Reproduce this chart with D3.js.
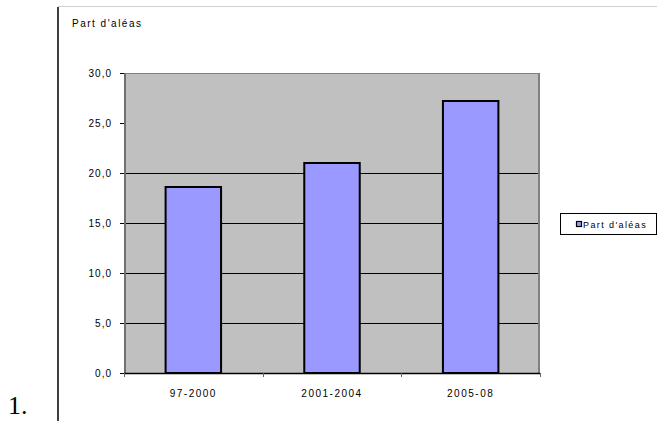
<!DOCTYPE html>
<html>
<head>
<meta charset="utf-8">
<script src="https://cdn.jsdelivr.net/npm/d3@7"></script>
<style>
  html, body { margin: 0; padding: 0; background: #fff; }
  svg { display: block; }
  text { font-family: Arial, "Liberation Sans", sans-serif; fill: #000; }
</style>
</head>
<body>
<svg id="chart" width="657" height="421"></svg>
<script>
// Chart data
const categories = ["97-2000", "2001-2004", "2005-08"];
const values = [18.6, 21.0, 27.2];
const yTicks = [0, 5, 10, 15, 20, 25, 30];
const gridValues = [5, 10, 15, 20];
const seriesName = "Part d'aléas";

const svg = d3.select("#chart");
const frFormat = d3.formatLocale({ decimal: ",", thousands: " ", grouping: [3], currency: ["", " €"] }).format(".1f");

// Page decorations: list number, margin rule and top rule
svg.append("text")
  .attr("x", 8).attr("y", 414)
  .style("font-family", "'Liberation Serif', 'Times New Roman', serif")
  .style("font-size", "26px")
  .text("1.");
svg.append("line").attr("x1", 58).attr("x2", 58).attr("y1", 7).attr("y2", 421)
  .attr("stroke", "#000").attr("stroke-width", 1.5);
svg.append("line").attr("x1", 58).attr("x2", 657).attr("y1", 6.5).attr("y2", 6.5)
  .attr("stroke", "#d0d0d0").attr("stroke-width", 1);

// Chart title
svg.append("text")
  .attr("x", 72).attr("y", 27)
  .style("font-size", "10px").style("letter-spacing", "1.5px")
  .text(seriesName);

// Plot area
const plot = { left: 124, right: 540, top: 73, bottom: 373 };

const x = d3.scaleBand()
  .domain(categories)
  .range([plot.left, plot.right])
  .paddingInner(0.6)
  .paddingOuter(0.3);

const y = d3.scaleLinear()
  .domain([0, 30])
  .range([plot.bottom, plot.top]);

svg.append("rect")
  .attr("x", plot.left).attr("y", plot.top)
  .attr("width", plot.right - plot.left).attr("height", plot.bottom - plot.top)
  .attr("fill", "#c0c0c0");

// Plot frame: gray top and right edges, darker left edge
svg.append("line").attr("x1", plot.left).attr("x2", plot.right).attr("y1", plot.top + 0.5).attr("y2", plot.top + 0.5)
  .attr("stroke", "#808080").attr("stroke-width", 1);
svg.append("line").attr("x1", plot.right - 1).attr("x2", plot.right - 1).attr("y1", plot.top).attr("y2", plot.bottom)
  .attr("stroke", "#808080").attr("stroke-width", 2);
svg.append("line").attr("x1", plot.left + 1).attr("x2", plot.left + 1).attr("y1", plot.top).attr("y2", plot.bottom)
  .attr("stroke", "#707070").attr("stroke-width", 2);

// Horizontal gridlines
svg.append("g").selectAll("line")
  .data(gridValues)
  .join("line")
  .attr("x1", plot.left + 2).attr("x2", plot.right - 2)
  .attr("y1", d => Math.round(y(d)) + 0.5).attr("y2", d => Math.round(y(d)) + 0.5)
  .attr("stroke", "#000").attr("stroke-width", 1);

// Bars
svg.append("g").selectAll("rect")
  .data(values)
  .join("rect")
  .attr("x", (d, i) => x(categories[i]))
  .attr("y", d => y(d))
  .attr("width", x.bandwidth())
  .attr("height", d => y(0) - y(d))
  .attr("fill", "#9999ff")
  .attr("stroke", "#000")
  .attr("stroke-width", 2);

// Y axis
const yAxis = svg.append("g")
  .attr("transform", `translate(${plot.left},0)`)
  .call(d3.axisLeft(y).tickValues(yTicks).tickSize(4).tickPadding(8).tickFormat(frFormat));
yAxis.select(".domain").remove();
yAxis.selectAll(".tick line").attr("stroke", "#000");
yAxis.selectAll(".tick text")
  .style("font-size", "10px").style("letter-spacing", "1px")
  .style("font-family", "Arial, 'Liberation Sans', sans-serif")
  .attr("fill", "#000");

// X axis baseline, category ticks and labels
svg.append("line")
  .attr("x1", plot.left).attr("x2", plot.right)
  .attr("y1", plot.bottom + 0.5).attr("y2", plot.bottom + 0.5)
  .attr("stroke", "#000").attr("stroke-width", 1.5);

const step = x.step();
const boundaries = d3.range(categories.length + 1).map(i => plot.left + i * step);
svg.append("g").selectAll("line")
  .data(boundaries)
  .join("line")
  .attr("x1", d => Math.round(d) + 0.5).attr("x2", d => Math.round(d) + 0.5)
  .attr("y1", plot.bottom).attr("y2", plot.bottom + 4)
  .attr("stroke", "#606060").attr("stroke-width", 1);

svg.append("g").selectAll("text")
  .data(categories)
  .join("text")
  .attr("x", d => x(d) + x.bandwidth() / 2)
  .attr("y", 397)
  .attr("text-anchor", "middle")
  .style("font-size", "10px").style("letter-spacing", "1.5px")
  .text(d => d);

// Legend
const legend = svg.append("g");
legend.append("rect")
  .attr("x", 560.5).attr("y", 213.5).attr("width", 96).attr("height", 21)
  .attr("fill", "#fff").attr("stroke", "#000").attr("stroke-width", 1);
legend.append("rect")
  .attr("x", 576.5).attr("y", 221.5).attr("width", 5).attr("height", 5)
  .attr("fill", "#9999ff").attr("stroke", "#000").attr("stroke-width", 1.2);
legend.append("text")
  .attr("x", 583).attr("y", 227.5)
  .style("font-size", "9px").style("letter-spacing", "1.4px")
  .text(seriesName);
</script>
</body>
</html>
